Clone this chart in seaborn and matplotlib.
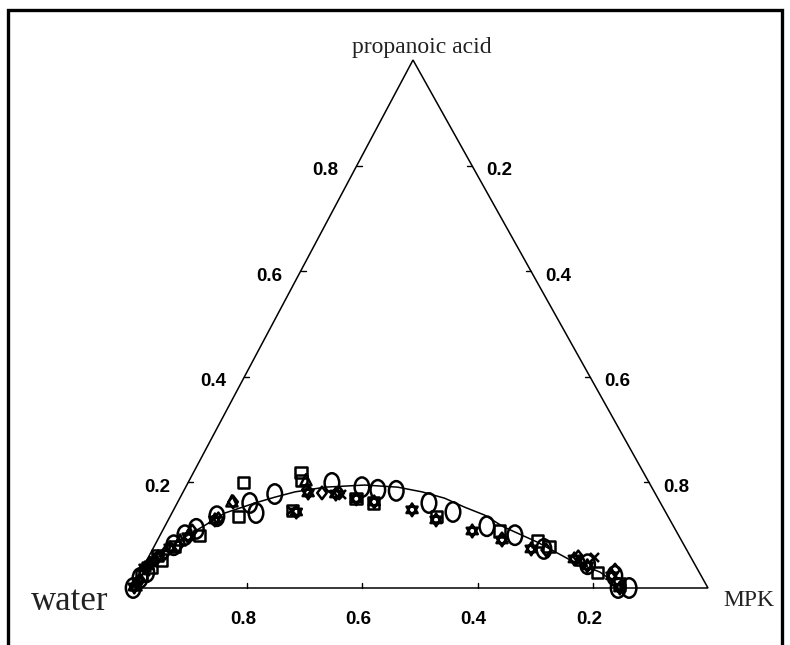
import numpy as np
import matplotlib
matplotlib.use("Agg")
import matplotlib.pyplot as plt
from matplotlib.path import Path
import seaborn as sns

# ternary data: (MPK mass fraction, propanoic acid mass fraction); water = rest
curve_mpk = [0.0, 0.004, 0.011, 0.023, 0.045, 0.069, 0.092, 0.135, 0.164, 0.194,
             0.242, 0.309, 0.368, 0.415, 0.460, 0.503, 0.545, 0.588, 0.661, 0.735,
             0.798, 0.841, 0.851]
curve_acid = [0.0, 0.021, 0.042, 0.070, 0.097, 0.119, 0.142, 0.161, 0.172, 0.182,
              0.191, 0.195, 0.191, 0.182, 0.170, 0.153, 0.138, 0.116, 0.087, 0.053,
              0.030, 0.006, 0.0]

circle_mpk = [0.002, 0.0047, 0.011, 0.033, 0.043, 0.057, 0.081, 0.126, 0.146, 0.161,
              0.250, 0.306, 0.336, 0.369, 0.437, 0.487, 0.559, 0.616, 0.679, 0.769,
              0.827, 0.863, 0.844]
circle_acid = [0.0, 0.019, 0.030, 0.081, 0.100, 0.112, 0.136, 0.161, 0.142, 0.178,
               0.199, 0.191, 0.186, 0.184, 0.161, 0.144, 0.117, 0.100, 0.074, 0.045,
               0.023, 0.0, 0.0]

square_mpk = [0.006, 0.0139, 0.0145, 0.026, 0.035, 0.069, 0.119, 0.097, 0.187, 0.195,
              0.208, 0.306, 0.340, 0.463, 0.585, 0.660, 0.686, 0.794, 0.842]
square_acid = [0.023, 0.061, 0.038, 0.053, 0.078, 0.100, 0.136, 0.199, 0.218, 0.203,
               0.146, 0.170, 0.161, 0.136, 0.108, 0.089, 0.078, 0.030, 0.008]

hexa_mpk = [0.003, 0.004, 0.0075, 0.0165, 0.029, 0.050, 0.081, 0.215, 0.218, 0.267,
            0.307, 0.341, 0.414, 0.465, 0.538, 0.598, 0.657, 0.741, 0.770, 0.822,
            0.847]
hexa_acid = [0.002, 0.038, 0.042, 0.059, 0.076, 0.097, 0.129, 0.144, 0.180, 0.178,
             0.169, 0.163, 0.148, 0.129, 0.108, 0.091, 0.074, 0.055, 0.042, 0.023,
             0.0]

diamond_mpk = [0.004, 0.0065, 0.008, 0.014, 0.025, 0.041, 0.052, 0.086, 0.096, 0.213,
               0.242, 0.272, 0.597, 0.684, 0.746, 0.822]
diamond_acid = [0.0095, 0.015, 0.047, 0.053, 0.066, 0.080, 0.108, 0.131, 0.163, 0.186,
                0.180, 0.180, 0.093, 0.072, 0.059, 0.034]

triangle_mpk = [0.004, 0.039, 0.093, 0.202, 0.754]
triangle_acid = [0.006, 0.091, 0.165, 0.205, 0.053]

cross_mpk = [0.007, 0.204, 0.276, 0.773]
cross_acid = [0.032, 0.148, 0.178, 0.059]

ticks = [0.2, 0.4, 0.6, 0.8]

# triangle corners in figure pixels (water, MPK, propanoic acid)
W = np.array([132.0, 588.0])
M = np.array([708.0, 588.0])
T = np.array([413.0, 60.0])


def ternary(mpk, acid):
    mpk = np.asarray(mpk, dtype=float)
    acid = np.asarray(acid, dtype=float)
    x = W[0] + mpk * (M[0] - W[0]) + acid * (T[0] - W[0])
    y = W[1] + acid * (T[1] - W[1])
    return x, y


sns.set_style("white")

fig = plt.figure(figsize=(7.9, 6.45), dpi=100)
ax = fig.add_axes([0, 0, 1, 1])
ax.set_xlim(0, 790)
ax.set_ylim(645, 0)
ax.axis("off")

# outer frame
ax.plot([8, 8, 782, 782], [650, 10, 10, 650], color="black", lw=2.4,
        solid_joinstyle="miter")

# triangle
tri_x = [W[0], M[0], T[0], W[0]]
tri_y = [W[1], M[1], T[1], W[1]]
ax.plot(tri_x, tri_y, color="black", lw=1.1, solid_joinstyle="miter")

tick_font = dict(fontsize=13.5, fontweight="bold", family="Liberation Sans",
                 color="black", ha="center", va="center")
for t in ticks:
    # bottom edge (water fraction)
    bx, by = ternary(t, 0.0)
    ax.plot([bx, bx], [by, by - 5], color="black", lw=1.0)
    ax.text(bx - 4, 619, f"{1 - t:.1f}", **tick_font)
    # left edge (propanoic acid fraction)
    lx, ly = ternary(0.0, t)
    ax.plot([lx, lx + 5], [ly, ly], color="black", lw=1.0)
    ax.text(lx - 31, ly + 5, f"{t:.1f}", **tick_font)
    # right edge (MPK fraction)
    rx, ry = ternary(1 - t, t)
    ax.plot([rx, rx - 5], [ry, ry], color="black", lw=1.0)
    ax.text(rx + 27, ry + 5, f"{1 - t:.1f}", **tick_font)

serif = "Liberation Serif"
ax.text(422, 47, "propanoic acid", fontsize=17, family=serif,
        ha="center", va="center", color="#222222")
ax.text(70, 601, "water", fontsize=25, family=serif,
        ha="center", va="center", color="#222222")
ax.text(749, 600, "MPK", fontsize=17, family=serif,
        ha="center", va="center", color="#222222")

# binodal curve
cx, cy = ternary(curve_mpk, curve_acid)
sns.lineplot(x=cx, y=cy, sort=False, estimator=None, color="black", lw=1.1, ax=ax)

# marker shapes
circ = Path.unit_circle()
ellipse = Path(circ.vertices * np.array([0.75, 1.0]), circ.codes)
up = [(np.cos(np.radians(a)), np.sin(np.radians(a))) for a in (90, 210, 330)]
dn = [(np.cos(np.radians(a)), np.sin(np.radians(a))) for a in (270, 30, 150)]
hexagram = Path(up + [up[0]] + dn + [dn[0]],
                [Path.MOVETO, Path.LINETO, Path.LINETO, Path.CLOSEPOLY] * 2)
rhomb = Path([(0, 0.5), (0.38, 0), (0, -0.5), (-0.38, 0), (0, 0.5)],
             [Path.MOVETO, Path.LINETO, Path.LINETO, Path.LINETO, Path.CLOSEPOLY])

series = [
    (circle_mpk, circle_acid, ellipse, 14.0),
    (square_mpk, square_acid, "s", 8.0),
    (hexa_mpk, hexa_acid, hexagram, 9.2),
    (diamond_mpk, diamond_acid, rhomb, 9.0),
    (triangle_mpk, triangle_acid, "^", 8.0),
]
for mpk, acid, mk, ms in series:
    px, py = ternary(mpk, acid)
    sns.scatterplot(x=px, y=py, marker=mk, s=ms ** 2, facecolor="none",
                    edgecolor="black", linewidth=1.8, ax=ax, zorder=3)

px, py = ternary(cross_mpk, cross_acid)
sns.scatterplot(x=px, y=py, marker="x", s=42, color="black", linewidth=1.8,
                ax=ax, zorder=3)

fig.savefig("out.png", dpi=100)
